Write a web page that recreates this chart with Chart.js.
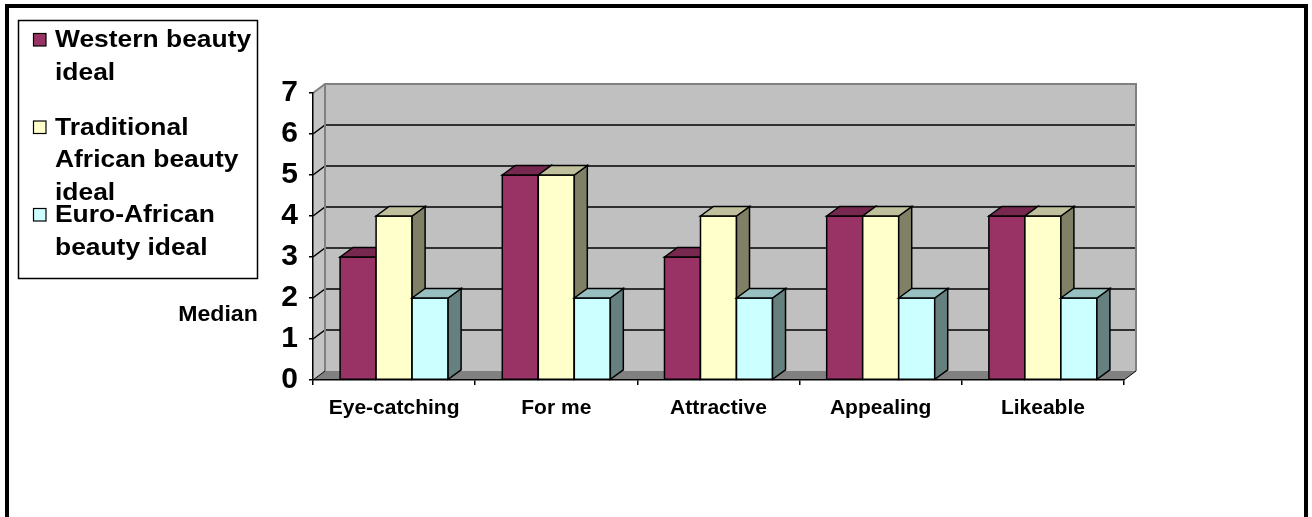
<!DOCTYPE html>
<html>
<head>
<meta charset="utf-8">
<script src="https://cdn.jsdelivr.net/npm/chart.js@4.4.0/dist/chart.umd.min.js"></script>
<style>
  html, body { margin: 0; padding: 0; background: #fff; }
  canvas { display: block; }
</style>
</head>
<body>
<canvas id="chart" width="1312" height="517"></canvas>
<script>
// ---- data ----
const categories = ['Eye-catching', 'For me', 'Attractive', 'Appealing', 'Likeable'];
const seriesLabels = ['Western beauty ideal', 'Traditional African beauty ideal', 'Euro-African beauty ideal'];
const western = [3, 5, 3, 4, 4];
const traditional = [4, 5, 4, 4, 4];
const euroAfrican = [2, 2, 2, 2, 2];
const yTicks = [0, 1, 2, 3, 4, 5, 6, 7];
const yTitle = 'Median';

// ---- styling ----
const FONT = '"Liberation Sans", Arial, Helvetica, sans-serif';
const faces = [
  { front: '#993366', top: '#76284F', side: '#4D1933' },
  { front: '#FFFFCC', top: '#C0C09C', side: '#808066' },
  { front: '#CCFFFF', top: '#99C0C0', side: '#668080' }
];
const WALL_DX = 12, WALL_DY = -9;   // depth of the box
const BAR_DX = 13, BAR_DY = -9.5;   // depth of each column

function poly(ctx, pts, fill, stroke, lw) {
  ctx.beginPath();
  ctx.moveTo(pts[0][0], pts[0][1]);
  for (let k = 1; k < pts.length; k++) ctx.lineTo(pts[k][0], pts[k][1]);
  ctx.closePath();
  if (fill) { ctx.fillStyle = fill; ctx.fill(); }
  if (stroke) { ctx.strokeStyle = stroke; ctx.lineWidth = lw || 1; ctx.stroke(); }
}

function text(ctx, str, x, y, size, sx, align) {
  ctx.save();
  ctx.font = 'bold ' + size + 'px ' + FONT;
  ctx.fillStyle = '#000';
  ctx.textBaseline = 'alphabetic';
  ctx.textAlign = align;
  ctx.translate(x, y);
  ctx.scale(sx, 1);
  ctx.fillText(str, 0, 0);
  ctx.restore();
}

function wrap(ctx, str, maxW, size, sx) {
  ctx.save();
  ctx.font = 'bold ' + size + 'px ' + FONT;
  const words = str.split(' ');
  const lines = [];
  let cur = '';
  for (const w of words) {
    const test = cur ? cur + ' ' + w : w;
    if (cur && ctx.measureText(test).width * sx > maxW) { lines.push(cur); cur = w; }
    else cur = test;
  }
  if (cur) lines.push(cur);
  ctx.restore();
  return lines;
}

// back wall, side wall, floor and gridlines, under the axes
const box3d = {
  id: 'box3d',
  beforeDraw(chart) {
    const { ctx, chartArea: a, scales: { y } } = chart;
    ctx.save();
    const L = a.left, R = a.right, T = a.top, B = a.bottom;
    ctx.fillStyle = '#C0C0C0';
    ctx.fillRect(L + WALL_DX, T + WALL_DY, R - L, B - T);
    poly(ctx, [[L, T], [L + WALL_DX, T + WALL_DY], [L + WALL_DX, B + WALL_DY], [L, B]], '#C4C4C4');
    poly(ctx, [[L, B], [R, B], [R + WALL_DX, B + WALL_DY], [L + WALL_DX, B + WALL_DY]], '#808080');

    // gridlines across side wall and back wall
    ctx.strokeStyle = '#000';
    ctx.lineWidth = 1.5;
    yTicks.forEach(v => {
      if (v === y.min || v === y.max) return;
      const py = y.getPixelForValue(v);
      ctx.beginPath();
      ctx.moveTo(L, py);
      ctx.lineTo(L + WALL_DX, py + WALL_DY);
      ctx.lineTo(R + WALL_DX, py + WALL_DY);
      ctx.stroke();
    });

    // wall edges
    ctx.strokeStyle = '#808080';
    ctx.lineWidth = 2;
    ctx.beginPath();
    ctx.moveTo(L, T);
    ctx.lineTo(L + WALL_DX, T + WALL_DY);
    ctx.lineTo(R + WALL_DX, T + WALL_DY);
    ctx.lineTo(R + WALL_DX, B + WALL_DY);
    ctx.moveTo(L + WALL_DX, T + WALL_DY);
    ctx.lineTo(L + WALL_DX, B + WALL_DY);
    ctx.stroke();

    // floor side edges
    ctx.strokeStyle = '#000';
    ctx.lineWidth = 1;
    ctx.beginPath();
    ctx.moveTo(L, B); ctx.lineTo(L + WALL_DX, B + WALL_DY);
    ctx.moveTo(R, B); ctx.lineTo(R + WALL_DX, B + WALL_DY);
    ctx.stroke();
    ctx.restore();
  }
};

// 3D columns: front, side and top faces in back-to-front order
const columns3d = {
  id: 'columns3d',
  afterDatasetsDraw(chart) {
    const ctx = chart.ctx;
    ctx.save();
    ctx.lineJoin = 'miter';
    const n = chart.data.datasets.length;
    categories.forEach((c, j) => {
      for (let i = 0; i < n; i++) {
        const el = chart.getDatasetMeta(i).data[j];
        const p = el.getProps(['x', 'y', 'base', 'width'], true);
        const l = p.x - p.width / 2, r = p.x + p.width / 2;
        const f = faces[i];
        poly(ctx, [[l, p.y], [r, p.y], [r, p.base], [l, p.base]], f.front, '#000', 1.5);
        poly(ctx, [[r, p.y], [r + BAR_DX, p.y + BAR_DY], [r + BAR_DX, p.base + BAR_DY], [r, p.base]], f.side, '#000', 1.5);
        poly(ctx, [[l, p.y], [l + BAR_DX, p.y + BAR_DY], [r + BAR_DX, p.y + BAR_DY], [r, p.y]], f.top, '#000', 1.5);
      }
    });
    ctx.restore();
  }
};

// legend box, horizontal axis title and the frame
const annotations = {
  id: 'annotations',
  afterDraw(chart) {
    const ctx = chart.ctx;
    ctx.save();

    // legend
    ctx.strokeStyle = '#000';
    ctx.lineWidth = 1.5;
    ctx.strokeRect(18.5, 20.5, 239, 258);
    const size = 24, sx = 1.1;
    chart.data.datasets.forEach((ds, i) => {
      const base = 47 + i * 87.5;
      ctx.fillStyle = faces[i].front;
      ctx.fillRect(33.5, base - 13.5, 12.5, 12.5);
      ctx.strokeStyle = '#000';
      ctx.lineWidth = 1.2;
      ctx.strokeRect(33.5, base - 13.5, 12.5, 12.5);
      const lines = wrap(ctx, ds.label, 200, size, sx);
      lines.forEach((ln, k) => text(ctx, ln, 55, base + k * 32.5, size, sx, 'left'));
    });

    // axis title
    text(ctx, yTitle, 218, 321, 22, 1.05, 'center');

    // frame
    ctx.strokeStyle = '#000';
    ctx.lineWidth = 4;
    ctx.lineJoin = 'miter';
    ctx.beginPath();
    ctx.moveTo(7, 530);
    ctx.lineTo(7, 6);
    ctx.lineTo(1306, 6);
    ctx.lineTo(1306, 530);
    ctx.stroke();
    ctx.restore();
  }
};

const seriesValues = [western, traditional, euroAfrican];

new Chart(document.getElementById('chart'), {
  type: 'bar',
  data: {
    labels: categories,
    datasets: seriesLabels.map((label, i) => ({
      label,
      data: seriesValues[i],
      backgroundColor: faces[i].front,
      borderWidth: 0,
      categoryPercentage: 0.666,
      barPercentage: 1.0
    }))
  },
  options: {
    responsive: false,
    animation: false,
    devicePixelRatio: 1,
    layout: { padding: { left: 0, top: 93, right: 188, bottom: 0 } },
    plugins: {
      legend: { display: false },
      title: { display: false },
      tooltip: { enabled: false }
    },
    scales: {
      x: {
        grid: { display: true, drawOnChartArea: false, drawTicks: true, tickLength: 5, color: '#000', lineWidth: 1.5, offset: true },
        border: { display: true, color: '#000', width: 1.5 },
        ticks: { color: '#000', font: { family: FONT, size: 21, weight: 'bold' }, padding: 11, maxRotation: 0, autoSkip: false },
        afterFit(s) { s.height = 137; }
      },
      y: {
        min: 0,
        max: 7,
        afterBuildTicks(s) { s.ticks = yTicks.map(v => ({ value: v })); },
        grid: { display: true, drawOnChartArea: false, drawTicks: true, tickLength: 4, color: '#000', lineWidth: 1.5 },
        border: { display: true, color: '#000', width: 1.5 },
        ticks: { color: '#000', font: { family: FONT, size: 30, weight: 'bold' }, padding: 11 },
        afterFit(s) { s.width = 313; }
      }
    }
  },
  plugins: [box3d, columns3d, annotations]
});
</script>
</body>
</html>
